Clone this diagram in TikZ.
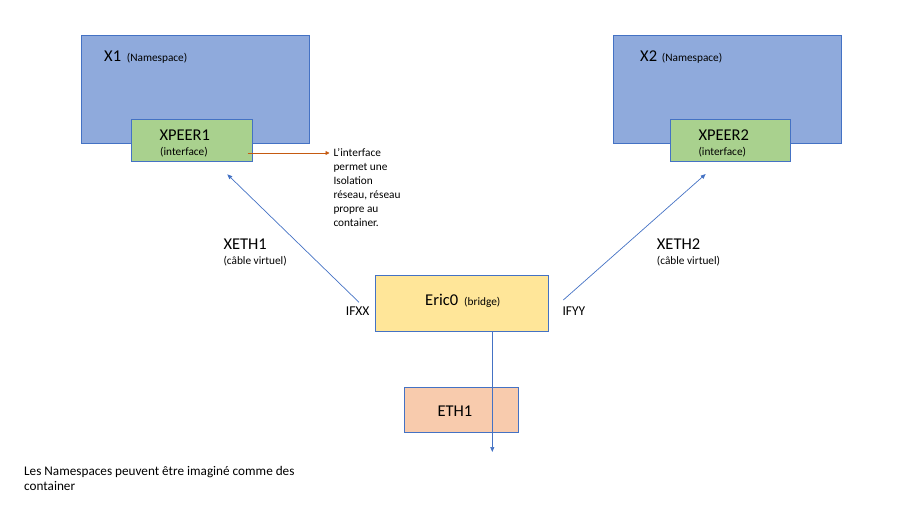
\documentclass[tikz,border=0pt]{standalone}
\usepackage{fontspec}
\setmainfont{Carlito}
\usetikzlibrary{arrows.meta}
\definecolor{nsfill}{HTML}{8FAADC}
\definecolor{bordblue}{HTML}{4472C4}
\definecolor{ifgreen}{HTML}{A9D18E}
\definecolor{bryellow}{HTML}{FFE699}
\definecolor{ethpeach}{HTML}{F8CBAD}
\definecolor{annorange}{HTML}{C55A11}
\tikzset{
  box/.style={draw=bordblue, line width=0.9pt},
  big/.style={font=\fontsize{16.5}{19}\selectfont, anchor=base west, inner sep=0pt},
  small/.style={font=\fontsize{11.3}{14}\selectfont, anchor=base west, inner sep=0pt},
  mid/.style={font=\fontsize{13.5}{18}\selectfont, anchor=base west, inner sep=0pt},
  link/.style={draw=bordblue, line width=0.7pt, -{Triangle[length=5pt,width=4pt]}},
  note/.style={draw=annorange, line width=0.8pt, -{Triangle[length=4pt,width=4pt]}}
}
\begin{document}
\begin{tikzpicture}[x=1pt,y=-1pt]
\useasboundingbox (0,0) rectangle (918,516);
% namespaces
\node[box, fill=nsfill, minimum width=227.4pt, minimum height=108pt, anchor=north west, inner sep=0pt] (x1) at (81.3,35.3) {};
\node[box, fill=nsfill, minimum width=227.4pt, minimum height=108pt, anchor=north west, inner sep=0pt] (x2) at (613.3,35.3) {};
\node[big] (x1t) at (104,61.7) {X1};
\node[small] (x1s) at (126.7,61.7) {(Namespace)};
\node[big] (x2t) at (640,61.7) {X2};
\node[small] (x2s) at (661.7,61.7) {(Namespace)};
% interfaces
\node[box, fill=ifgreen, minimum width=120.4pt, minimum height=42.6pt, anchor=north west, inner sep=0pt] (p1) at (131.3,118.7) {};
\node[box, fill=ifgreen, minimum width=120pt, minimum height=42.6pt, anchor=north west, inner sep=0pt] (p2) at (670.3,118.7) {};
\node[big] (p1t) at (159.3,141) {XPEER1};
\node[small] (p1s) at (160,155) {(interface)};
\node[big] (p2t) at (698.3,141) {XPEER2};
\node[small] (p2s) at (698.3,155) {(interface)};
% bridge
\node[box, fill=bryellow, minimum width=172.7pt, minimum height=56pt, anchor=north west, inner sep=0pt] (br) at (375,275) {};
\node[big] (brt) at (425,305) {Eric0};
\node[small] (brs) at (464,305) {(bridge)};
% eth1
\node[box, fill=ethpeach, minimum width=113.7pt, minimum height=45.3pt, anchor=north west, inner sep=0pt] (eth) at (404,387) {};
\node[big] (etht) at (437.3,416.7) {ETH1};
% cable labels
\node[big] (xe1) at (223.3,249) {XETH1};
\node[small] (xe1s) at (223.3,264) {(câble virtuel)};
\node[big] (xe2) at (656.7,249) {XETH2};
\node[small] (xe2s) at (656.7,264) {(câble virtuel)};
\node[mid] (ifxx) at (345.7,315.7) {IFXX};
\node[mid] (ifyy) at (562.3,315.7) {IFYY};
% annotation
\node[small, anchor=north west, align=left, inner sep=0pt] (ann) at (333.3,148.5) {L’interface\\permet une\\Isolation\\réseau, réseau\\propre au\\container.};
% bottom text
\node[mid, font=\fontsize{13.2}{15}\selectfont] (bt) at (24,475) {Les Namespaces peuvent être imaginé comme des};
\node[mid, font=\fontsize{13.2}{15}\selectfont] (bt2) at (24,490) {container};
% connectors
\coordinate (c1s) at (359,302.3);
\coordinate (c1e) at (227.3,174.3);
\coordinate (c2s) at (563.3,300);
\coordinate (c2e) at (705.7,174);
\coordinate (vs) at (492.3,331);
\coordinate (ve) at (492.3,452);
\coordinate (os) at (247.7,153);
\coordinate (oe) at (329.5,153);
\draw[link] (c1s) -- (c1e);
\draw[link] (c2s) -- (c2e);
\draw[link] (vs) -- (ve);
\draw[note] (os) -- (oe);
\end{tikzpicture}
\end{document}
